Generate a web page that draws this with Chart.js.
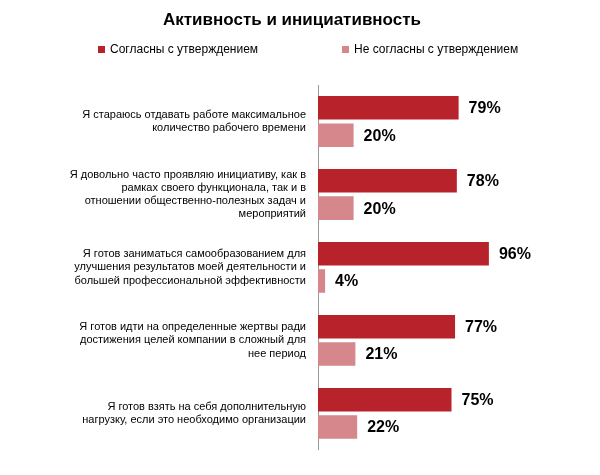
<!DOCTYPE html>
<html><head><meta charset="utf-8">
<script src="https://cdn.jsdelivr.net/npm/chart.js@4/dist/chart.umd.min.js"></script>
<style>body{margin:0;background:#fff}#w{width:600px;height:475px}</style>
</head><body><div id="w"><canvas id="c"></canvas></div>
<script>
const categories=[
["Я стараюсь отдавать работе максимальное","количество рабочего времени"],
["Я довольно часто проявляю инициативу, как в","рамках своего функционала, так и в","отношении общественно-полезных задач и","мероприятий"],
["Я готов заниматься самообразованием для","улучшения результатов моей деятельности и","большей профессиональной эффективности"],
["Я готов идти на определенные жертвы ради","достижения целей компании в сложный для","нее период"],
["Я готов взять на себя дополнительную","нагрузку, если это необходимо организации"]];
const agree=[79,78,96,77,75];
const disagree=[20,20,4,21,22];
const seriesNames=["Согласны с утверждением","Не согласны с утверждением"];
const colors=["#B8232B","#D5878B"];
const deco={id:'deco',afterDraw(ch){const c=ch.ctx;c.save();c.fillStyle='#000';c.textAlign='center';c.textBaseline='middle';
c.font='bold 17px "Liberation Sans", Arial';c.fillText('Активность и инициативность',292,20);
c.font='12px "Liberation Sans", Arial';c.textAlign='left';
[[98,seriesNames[0],colors[0]],[342,seriesNames[1],colors[1]]].forEach(([x,t,col])=>{c.fillStyle=col;c.fillRect(x,46,7,7);c.fillStyle='#000';c.fillText(t,x+12,50);});
c.font='bold 16px "Liberation Sans", Arial';
ch.data.datasets.forEach((d,i)=>{ch.getDatasetMeta(i).data.forEach((b,j)=>{c.fillText(d.data[j]+'%',b.x+10,b.y+1);});});
c.restore();}};
new Chart(document.getElementById('c'),{type:'bar',
data:{labels:categories,datasets:[
{label:seriesNames[0],data:agree,backgroundColor:colors[0],categoryPercentage:0.75,barPercentage:0.86},
{label:seriesNames[1],data:disagree,backgroundColor:colors[1],categoryPercentage:0.75,barPercentage:0.86}]},
options:{indexAxis:'y',responsive:true,maintainAspectRatio:false,animation:false,
layout:{padding:{top:85,bottom:15,right:104,left:0}},
plugins:{legend:{display:false},title:{display:false},tooltip:{enabled:false}},
scales:{x:{min:0,max:100,display:false},
y:{grid:{display:false,drawTicks:false},border:{color:'#999'},
ticks:{color:'#000',font:{size:11,family:'"Liberation Sans", Arial'},padding:12},
afterFit(s){s.width=318;}}}},
plugins:[deco]});
</script></body></html>
